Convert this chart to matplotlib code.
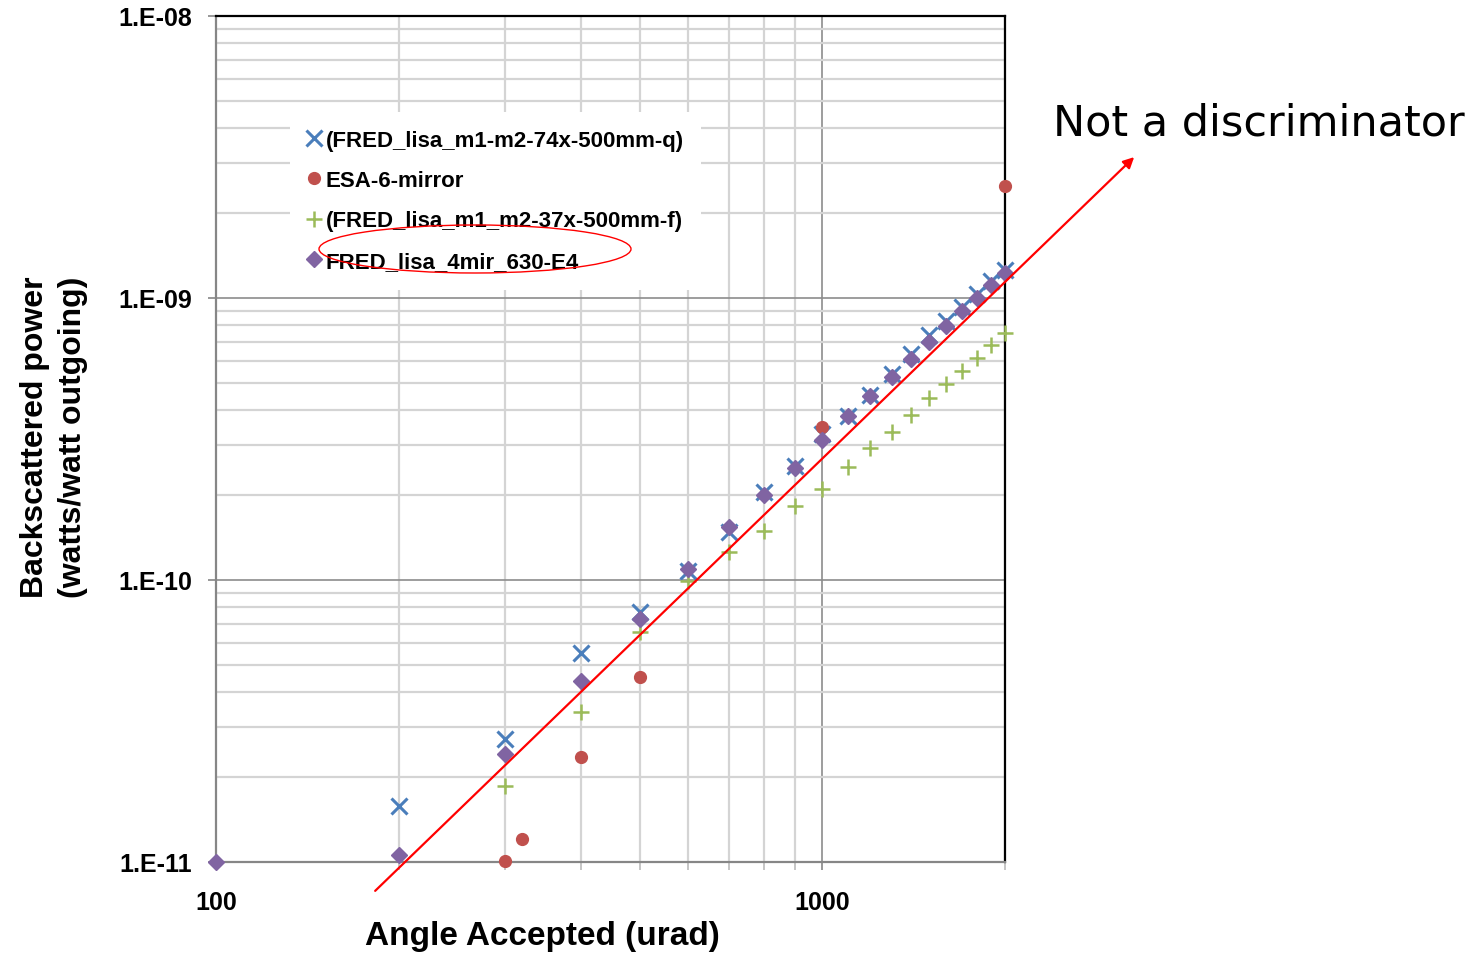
import matplotlib
matplotlib.use('Agg')
import matplotlib.pyplot as plt
from matplotlib.ticker import LogLocator, FuncFormatter, NullFormatter
from matplotlib.patches import Ellipse
import numpy as np

# angle accepted (urad) and backscattered power (W/W outgoing)
x_q = [200, 300, 400, 500, 600, 700, 800, 900, 1000, 1100, 1200, 1300,
       1400, 1500, 1600, 1700, 1800, 1900, 2000]
y_q = [1.58e-11, 2.73e-11, 5.5e-11, 7.7e-11, 1.08e-10, 1.48e-10, 2.05e-10,
       2.54e-10, 3.3e-10, 3.82e-10, 4.53e-10, 5.37e-10, 6.33e-10, 7.39e-10,
       8.28e-10, 9.3e-10, 1.03e-9, 1.15e-9, 1.26e-9]

x_esa = [300, 320, 400, 500, 1000, 2000]
y_esa = [1.01e-11, 1.21e-11, 2.36e-11, 4.53e-11, 3.49e-10, 2.49e-9]

x_f = [300, 400, 500, 600, 700, 800, 900, 1000, 1100, 1200, 1300, 1400,
       1500, 1600, 1700, 1800, 1900, 2000]
y_f = [1.86e-11, 3.4e-11, 6.55e-11, 9.9e-11, 1.26e-10, 1.49e-10, 1.83e-10,
       2.1e-10, 2.52e-10, 2.94e-10, 3.35e-10, 3.85e-10, 4.42e-10, 4.95e-10,
       5.51e-10, 6.12e-10, 6.81e-10, 7.51e-10]

x_4mir = [100, 200, 300, 400, 500, 600, 700, 800, 900, 1000, 1100, 1200,
          1300, 1400, 1500, 1600, 1700, 1800, 1900, 2000]
y_4mir = [1.0e-11, 1.06e-11, 2.42e-11, 4.39e-11, 7.28e-11, 1.09e-10,
          1.54e-10, 2.0e-10, 2.49e-10, 3.13e-10, 3.82e-10, 4.49e-10,
          5.25e-10, 6.08e-10, 6.98e-10, 7.96e-10, 9.0e-10, 1.0e-9, 1.11e-9,
          1.23e-9]

labels = ['(FRED_lisa_m1-m2-74x-500mm-q)', 'ESA-6-mirror',
          '(FRED_lisa_m1_m2-37x-500mm-f)', 'FRED_lisa_4mir_630-E4']

# hand drawn trend arrow (data units)
arrow_start = (183, 7.9e-12)
arrow_end = (3266, 3.16e-9)

plt.rcParams['font.family'] = ['Liberation Sans', 'DejaVu Sans']

fig = plt.figure(figsize=(14.82, 9.54), dpi=100)
ax = fig.add_axes([216/1482, 1 - 863/954, 789/1482, 846/954])

ax.plot(x_q, y_q, 'x', color='#4a7ebb', ms=11, mew=2.2, clip_on=False, label=labels[0], zorder=3)
ax.plot(x_esa, y_esa, 'o', color='#c0504d', ms=8.5, clip_on=False, label=labels[1], zorder=3)
ax.plot(x_f, y_f, '+', color='#9bbb59', ms=11, mew=1.8, clip_on=False, label=labels[2], zorder=3)
ax.plot(x_4mir, y_4mir, 'D', color='#8064a2', ms=8, clip_on=False, label=labels[3], zorder=4)

ax.set_xscale('log')
ax.set_yscale('log')
ax.set_xlim(100, 2000)
ax.set_ylim(1e-11, 1e-8)

ax.xaxis.set_major_locator(LogLocator(base=10))
ax.xaxis.set_minor_locator(LogLocator(base=10, subs=np.arange(2, 10)))
ax.xaxis.set_major_formatter(FuncFormatter(lambda v, p: '%d' % round(v)))
ax.xaxis.set_minor_formatter(NullFormatter())
ax.yaxis.set_major_locator(LogLocator(base=10))
ax.yaxis.set_minor_locator(LogLocator(base=10, subs=np.arange(2, 10)))
ax.yaxis.set_major_formatter(FuncFormatter(lambda v, p: '1.E-%02d' % round(-np.log10(v))))
ax.yaxis.set_minor_formatter(NullFormatter())

ax.grid(True, which='minor', color='#d4d4d4', lw=1.6, zorder=0)
ax.grid(True, which='major', color='#8c8c8c', lw=1.2, zorder=0)
ax.set_axisbelow(True)

for s in ['left', 'bottom']:
    ax.spines[s].set_color('#868686')
    ax.spines[s].set_linewidth(1.6)
for s in ['top', 'right']:
    ax.spines[s].set_color('black')
    ax.spines[s].set_linewidth(1.6)

ax.tick_params(axis='both', which='major', direction='out', length=6, width=1.2,
               color='#868686', labelsize=18)
ax.tick_params(axis='x', which='minor', direction='out', length=6, width=1.2, color='#bbbbbb')
ax.tick_params(axis='y', which='minor', length=0)
ax.tick_params(axis='y', which='major', pad=11)
ax.tick_params(axis='x', which='major', pad=14)
for t in ax.get_xticklabels() + ax.get_yticklabels():
    t.set_fontweight('bold')

ax.set_xlabel('Angle Accepted (urad)', fontsize=24, fontweight='bold')
ax.xaxis.set_label_coords(0.414, -0.069)
ax.set_ylabel('Backscattered power\n(watts/watt outgoing)', fontsize=23,
              fontweight='bold', linespacing=1.35)
ax.yaxis.set_label_coords(-0.162, 0.503)

leg = ax.legend(loc='upper left', bbox_to_anchor=(290/1482, 1 - 113/954),
                bbox_transform=fig.transFigure, borderaxespad=0, borderpad=0.8,
                handlelength=0.6, handletextpad=0.2, labelspacing=0.87,
                numpoints=1, fancybox=False, framealpha=1, facecolor='white',
                edgecolor='none', prop={'weight': 'bold', 'size': 16})
leg.set_zorder(5)

ax.annotate('', xy=arrow_end, xytext=arrow_start, annotation_clip=False,
            arrowprops=dict(arrowstyle='-|>', color='red', lw=1.6,
                            mutation_scale=16, shrinkA=0, shrinkB=0), zorder=6)

fig.add_artist(Ellipse((475/1482, 1 - 250/954), 312/1482, 48/954,
                       transform=fig.transFigure, fill=False, edgecolor='red', lw=1.0, zorder=7))

fig.text(1053/1482, 1 - 136/954, 'Not a discriminator', fontsize=31,
         family='DejaVu Sans', va='baseline', ha='left')

fig.savefig('out.png', dpi=100)
